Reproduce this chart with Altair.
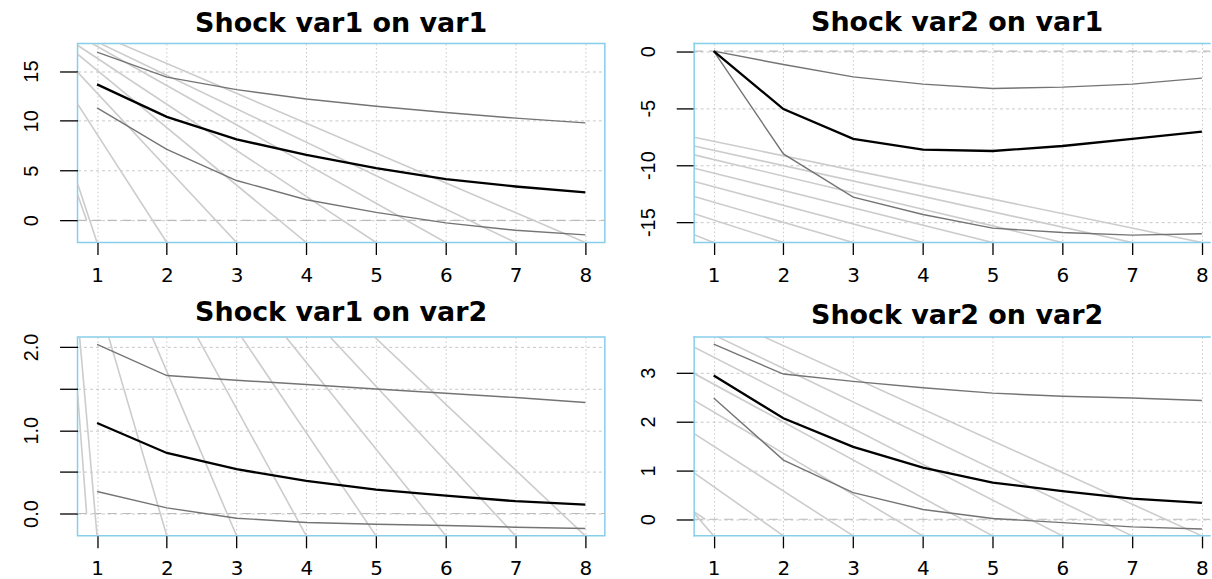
import altair as alt
import pandas as pd

steps = [1, 2, 3, 4, 5, 6, 7, 8]

# impulse responses with lower / upper bootstrap bands
v1_on_v1_irf = [13.67, 10.40, 8.14, 6.57, 5.24, 4.14, 3.40, 2.80]
v1_on_v1_lo = [11.30, 7.14, 4.00, 2.07, 0.80, -0.26, -1.00, -1.46]
v1_on_v1_hi = [16.90, 14.40, 13.14, 12.20, 11.47, 10.84, 10.27, 9.80]

v2_on_v1_irf = [0.0, -5.08, -7.70, -8.64, -8.76, -8.32, -7.70, -7.06]
v2_on_v1_lo = [0.0, -9.02, -12.81, -14.33, -15.53, -15.91, -16.14, -16.02]
v2_on_v1_hi = [0.0, -1.17, -2.25, -2.89, -3.27, -3.15, -2.89, -2.36]

v1_on_v2_irf = [1.087, 0.727, 0.532, 0.391, 0.288, 0.216, 0.148, 0.108]
v1_on_v2_lo = [0.264, 0.068, -0.056, -0.108, -0.128, -0.144, -0.164, -0.180]
v1_on_v2_hi = [2.030, 1.656, 1.600, 1.548, 1.495, 1.444, 1.392, 1.332]

v2_on_v2_irf = [2.940, 2.065, 1.480, 1.057, 0.750, 0.573, 0.423, 0.334]
v2_on_v2_lo = [2.480, 1.210, 0.545, 0.200, 0.014, -0.070, -0.157, -0.200]
v2_on_v2_hi = [3.580, 2.970, 2.820, 2.690, 2.580, 2.515, 2.480, 2.430]

# plotting ranges (data range widened by 4 % on each side)
x_range_left = [0.72, 8.28]
x_range_right = [0.72, 8.116]
y_range_11 = [-2.23, 17.77]
y_range_21 = [-16.79, 0.67]
y_range_12 = [-0.268, 2.12]
y_range_22 = [-0.34, 3.73]

# light grey strokes: upper end of each stroke; the lower end sits on the panel floor at a step
fan_11_x = [0.72, 0.72, 0.72, 0.72, 0.72, 0.93, 1.05, 1.33]
fan_11_y = [3.7, 11.7, 14.9, 16.7, 17.6, 17.77, 17.77, 17.77]
short_11 = [0.72, 2.6, 0.85, 0.0]

fan_21_x = [0.72, 0.72, 0.72, 0.72, 0.72, 0.72, 0.72, 0.72]
fan_21_y = [-16.1, -14.27, -12.76, -11.44, -10.27, -9.10, -8.32, -7.56]

fan_12_x = [0.75, 1.166, 1.79, 2.436, 3.07, 3.706, 4.34, 4.977]
fan_12_y = [2.12, 2.12, 2.12, 2.12, 2.12, 2.12, 2.12, 2.12]
short_12 = [0.72, 1.45, 0.85, 0.0]

fan_22_x = [0.72, 0.72, 0.72, 0.72, 0.72, 0.72, 1.06, 1.72]
fan_22_y = [0.12, 0.95, 1.75, 2.43, 2.98, 3.52, 3.73, 3.73]
short_22 = [0.72, 0.15, 0.88, 0.0]

y_ticks_11 = [0, 5, 10, 15]
y_ticks_21 = [0, -5, -10, -15]
y_ticks_12 = [0, 0.5, 1, 1.5, 2]
y_ticks_22 = [0, 1, 2, 3]

BOX = "#87CEEB"
GRID = "#C8C8C8"
BAND = "#747474"
FAN = "#CCCCCC"
ZERO = "#BBBBBB"

PLOT_H = 199.4
W_LEFT = 528.5
W_RIGHT = 517


def segments(xa, ya, xb, yb):
    return pd.DataFrame({"xa": xa, "ya": ya, "xb": xb, "yb": yb})


def make_panel(title, irf, lo, hi, fan_x, fan_y, short, xdom, ydom, yvals,
               ylabel_expr, width, open_right, title_dx):
    xs = alt.Scale(domain=xdom, nice=False, zero=False)
    ys = alt.Scale(domain=ydom, nice=False, zero=False)

    xaxis = alt.Axis(values=steps, title=None, grid=True, gridColor=GRID,
                     gridDash=[1.5, 2.5], gridWidth=1, domain=False,
                     tickSize=12, tickColor="black", tickWidth=1.3,
                     labelFont="DejaVu Sans", labelFontSize=20,
                     labelColor="black", labelPadding=11, labelFlush=False,
                     labelOverlap=False, format="d")
    yaxis = alt.Axis(values=yvals, title=None, grid=True, gridColor=GRID,
                     gridDash=[3, 3], gridWidth=1, domain=False,
                     tickSize=18, tickColor="black", tickWidth=1.3,
                     labelFont="Liberation Sans", labelFontSize=20,
                     labelColor="black", labelAngle=270, labelAlign="center",
                     labelBaseline="alphabetic", labelPadding=22,
                     labelFlush=False, labelOverlap=False,
                     labelExpr=ylabel_expr)

    def rules(df, **mark):
        return alt.Chart(df).mark_rule(**mark).encode(
            x=alt.X("xa:Q", scale=xs, axis=xaxis),
            y=alt.Y("ya:Q", scale=ys, axis=yaxis),
            x2="xb:Q",
            y2="yb:Q",
        )

    layers = []
    # horizontal reference line at zero
    layers.append(rules(segments([xdom[0]], [0], [xdom[1]], [0]),
                        color=ZERO, strokeWidth=1.2, strokeDash=[9, 6]))
    # grey strokes
    fan = segments(fan_x, fan_y, steps, [ydom[0]] * len(steps))
    if short is not None:
        fan = pd.concat([fan, segments([short[0]], [short[1]], [short[2]], [short[3]])])
    layers.append(rules(fan, color=FAN, strokeWidth=1.6, clip=True))

    band = pd.DataFrame({"step": steps * 2, "value": lo + hi,
                         "band": ["lower"] * 8 + ["upper"] * 8})
    layers.append(alt.Chart(band).mark_line(color=BAND, strokeWidth=1.4).encode(
        x=alt.X("step:Q", scale=xs, axis=xaxis),
        y=alt.Y("value:Q", scale=ys, axis=yaxis),
        detail="band:N",
    ))
    mid = pd.DataFrame({"step": steps, "value": irf})
    layers.append(alt.Chart(mid).mark_line(color="black", strokeWidth=2.3).encode(
        x=alt.X("step:Q", scale=xs, axis=xaxis),
        y=alt.Y("value:Q", scale=ys, axis=yaxis),
    ))

    props = dict(width=width, height=PLOT_H,
                 title=alt.TitleParams(text=title, font="DejaVu Sans", fontSize=27,
                                       fontWeight="bold", color="black",
                                       anchor="middle", offset=6, dx=title_dx))
    if open_right:
        # frame drawn on the left, top and bottom only; the right side runs off the page
        edges = segments([xdom[0], xdom[0], xdom[0]], [ydom[0], ydom[1], ydom[0]],
                         [xdom[0], xdom[1], xdom[1]], [ydom[1], ydom[1], ydom[0]])
        layers.append(rules(edges, color=BOX, strokeWidth=1.5, strokeCap="square"))
        props["view"] = alt.ViewBackground(strokeOpacity=0)

    return alt.layer(*layers).properties(**props)


int_labels = "'' + datum.value"
dec_labels = "datum.value % 1 == 0 ? format(datum.value, '.1f') : ''"

p11 = make_panel("Shock var1 on var1", v1_on_v1_irf, v1_on_v1_lo, v1_on_v1_hi,
                 fan_11_x, fan_11_y, short_11, x_range_left, y_range_11,
                 y_ticks_11, int_labels, W_LEFT, False, 0)
p21 = make_panel("Shock var2 on var1", v2_on_v1_irf, v2_on_v1_lo, v2_on_v1_hi,
                 fan_21_x, fan_21_y, None, x_range_right, y_range_21,
                 y_ticks_21, int_labels, W_RIGHT, True, 5)
p12 = make_panel("Shock var1 on var2", v1_on_v2_irf, v1_on_v2_lo, v1_on_v2_hi,
                 fan_12_x, fan_12_y, short_12, x_range_left, y_range_12,
                 y_ticks_12, dec_labels, W_LEFT, False, 0)
p22 = make_panel("Shock var2 on var2", v2_on_v2_irf, v2_on_v2_lo, v2_on_v2_hi,
                 fan_22_x, fan_22_y, short_22, x_range_right, y_range_22,
                 y_ticks_22, int_labels, W_RIGHT, True, 5)

chart = alt.concat(p11, p21, p12, p22, columns=2).properties(
    spacing=alt.RowColnumber(row=94, column=89),
    bounds="flush",
    align="each",
    padding={"left": 20.7, "top": 7, "right": 0, "bottom": 0},
    background="white",
).configure_view(stroke=BOX, strokeWidth=1.5)

chart.save("out.html", embed_options={"renderer": "svg", "actions": False})
